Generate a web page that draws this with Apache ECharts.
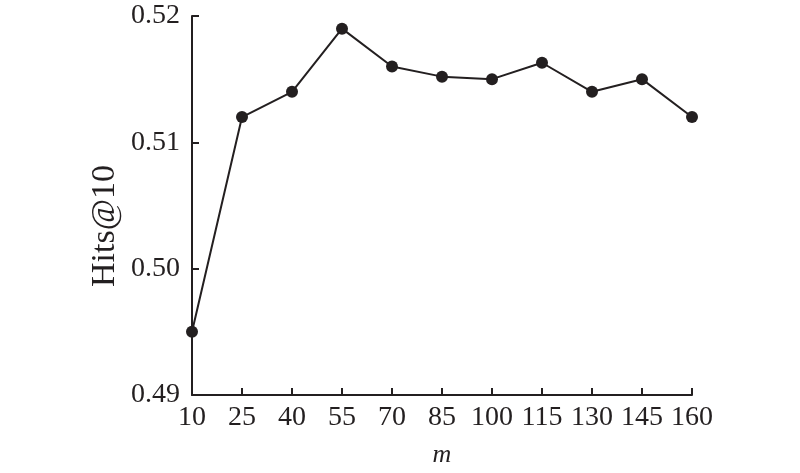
<!DOCTYPE html>
<html>
<head>
<meta charset="utf-8">
<script src="https://cdn.jsdelivr.net/npm/echarts@6/dist/echarts.min.js"></script>
<style>html,body{margin:0;padding:0;background:#fff;}#c{width:800px;height:473px;}</style>
</head>
<body>
<div id="c"></div>
<script>
var mValues = ['10','25','40','55','70','85','100','115','130','145','160'];
var hits10 = [0.495, 0.512, 0.514, 0.519, 0.516, 0.5152, 0.515, 0.5163, 0.514, 0.515, 0.512];
var yMin = 0.49, yMax = 0.52, yStep = 0.01;
var xName = 'm', yName = 'Hits@10';

var ink = '#231f20';
var font = '"Liberation Serif", "DejaVu Serif", serif';
var chart = echarts.init(document.getElementById('c'), null, {renderer: 'canvas'});
chart.setOption({
  animation: false,
  backgroundColor: '#fff',
  grid: {left: 192, width: 500, top: 16, height: 390, containLabel: false},
  xAxis: {
    type: 'category',
    data: mValues,
    boundaryGap: false,
    name: xName,
    nameLocation: 'middle',
    nameGap: 47,
    nameTextStyle: {fontFamily: font, fontStyle: 'italic', fontSize: 26, color: ink},
    axisLine: {lineStyle: {color: ink, width: 2}},
    axisTick: {inside: true, length: 7, alignWithLabel: true, lineStyle: {color: ink, width: 2}},
    axisLabel: {fontFamily: font, fontSize: 28, color: ink, margin: 9, interval: 0},
    splitLine: {show: false}
  },
  yAxis: {
    type: 'value',
    min: yMin, max: yMax, interval: yStep,
    axisLine: {show: true, lineStyle: {color: ink, width: 2}},
    axisTick: {show: true, inside: true, length: 7, lineStyle: {color: ink, width: 2}},
    axisLabel: {fontFamily: font, fontSize: 28, color: ink, margin: 12,
      formatter: function (v) { return v.toFixed(2); }},
    splitLine: {show: false}
  },
  graphic: [{
    type: 'text',
    x: 105, y: 226,
    rotation: Math.PI / 2,
    style: {text: yName, font: '34px ' + font, fill: ink, textAlign: 'center', textVerticalAlign: 'middle'}
  }],
  series: [{
    type: 'line',
    data: hits10,
    symbol: 'circle',
    symbolSize: 12,
    itemStyle: {color: ink},
    lineStyle: {color: ink, width: 2}
  }]
});
</script>
</body>
</html>
